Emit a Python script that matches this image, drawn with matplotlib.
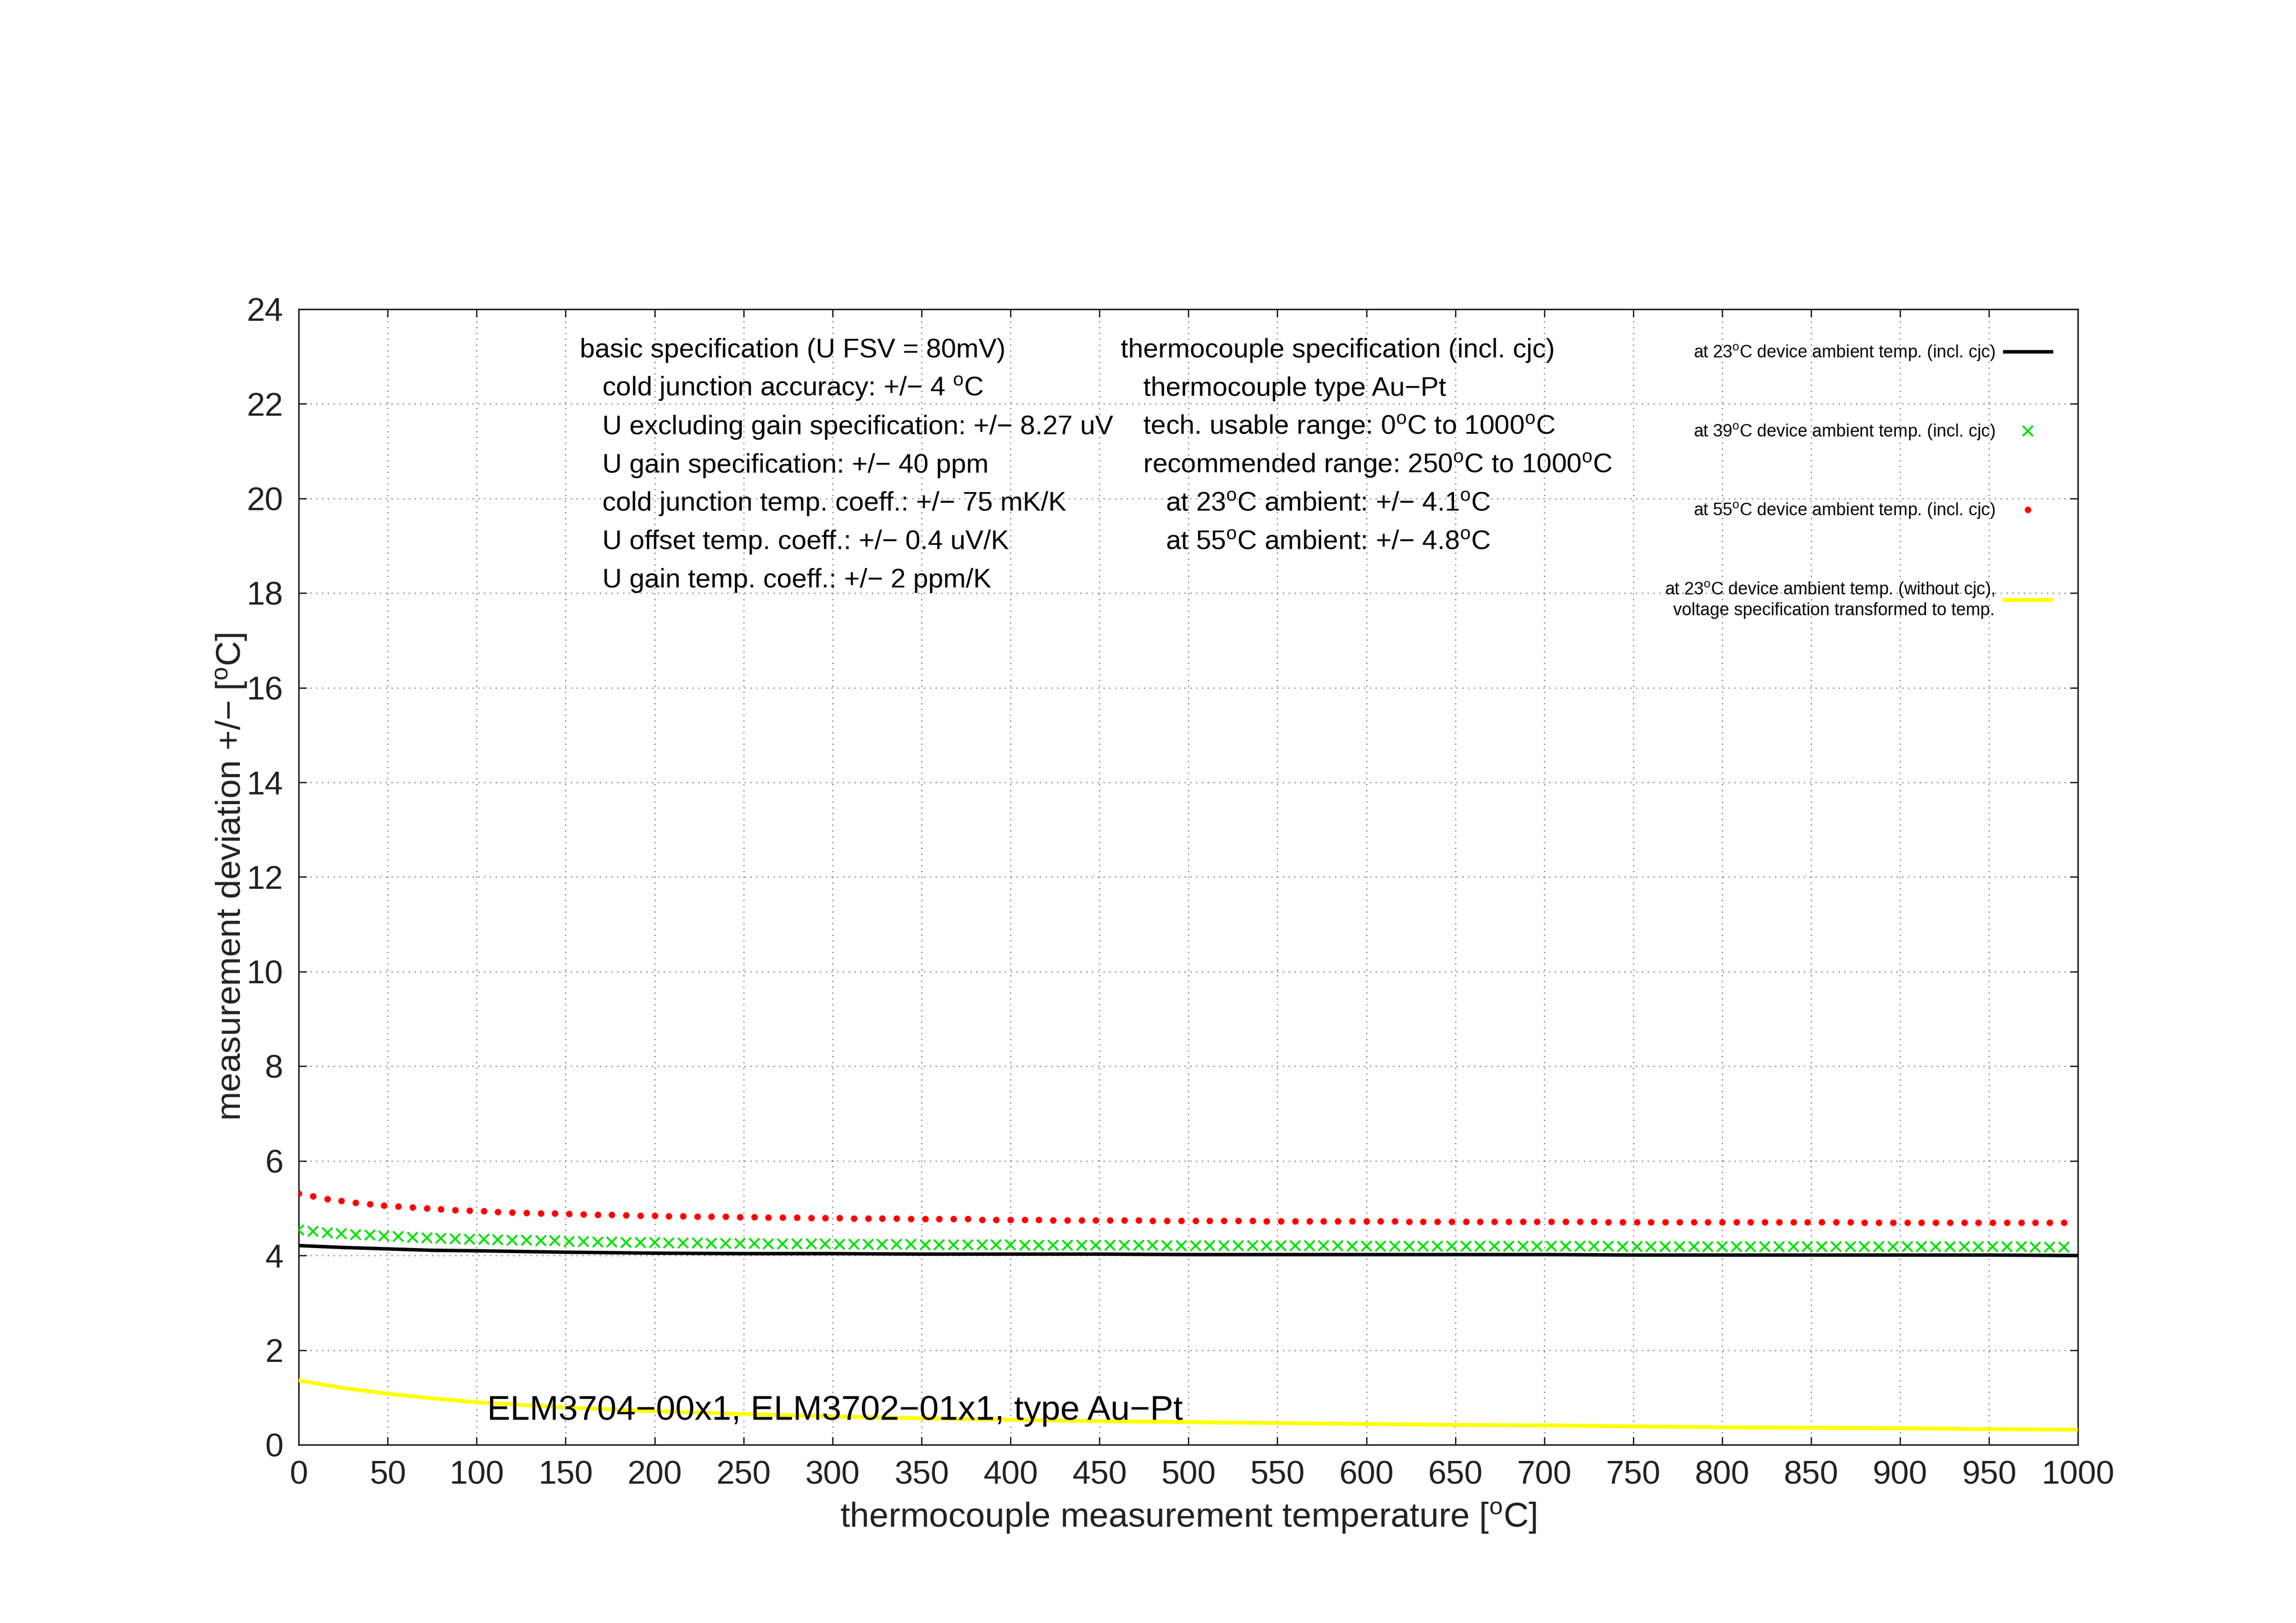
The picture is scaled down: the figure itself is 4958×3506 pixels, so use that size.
import numpy as np
import matplotlib
matplotlib.use("Agg")
from matplotlib import pyplot as plt

plt.rcParams['font.family'] = ['Liberation Sans', 'DejaVu Sans']
plt.rcParams['mathtext.fontset'] = 'custom'
plt.rcParams['mathtext.rm'] = 'Liberation Sans'
plt.rcParams['mathtext.it'] = 'Liberation Sans:italic'

# sample grid of the marker series (every 8 degC)
x_marks = np.arange(0, 1000, 8)

# at 55 degC ambient, red dots
dev_55 = [5.31, 5.25, 5.20, 5.16, 5.12, 5.09, 5.06, 5.04, 5.02, 5.00,
          4.98, 4.96, 4.95, 4.94, 4.92, 4.91, 4.90, 4.89, 4.89, 4.88,
          4.87, 4.86, 4.86, 4.85, 4.84, 4.84, 4.83, 4.83, 4.82, 4.82,
          4.82, 4.81, 4.81, 4.80, 4.80, 4.80, 4.79, 4.79, 4.79, 4.78,
          4.78, 4.78, 4.78, 4.77, 4.77, 4.77, 4.77, 4.77, 4.76, 4.76,
          4.76, 4.76, 4.76, 4.75, 4.75, 4.75, 4.75, 4.75, 4.75, 4.75,
          4.74, 4.74, 4.74, 4.74, 4.74, 4.74, 4.74, 4.74,
          4.73, 4.73, 4.73, 4.73, 4.73, 4.73, 4.73, 4.73, 4.73, 4.73,
          4.72, 4.72, 4.72, 4.72, 4.72, 4.72, 4.72, 4.72, 4.72, 4.72,
          4.72, 4.72, 4.72, 4.72,
          4.71, 4.71, 4.71, 4.71, 4.71, 4.71, 4.71, 4.71, 4.71, 4.71,
          4.71, 4.71, 4.71, 4.71, 4.71, 4.71, 4.71, 4.71,
          4.70, 4.70, 4.70, 4.70, 4.70, 4.70, 4.70, 4.70, 4.70, 4.70,
          4.70, 4.70, 4.70, 4.70, 4.70]

# at 39 degC ambient, green crosses
dev_39 = [4.54, 4.51, 4.48, 4.46, 4.44, 4.43, 4.41, 4.40, 4.38, 4.37,
          4.36, 4.35, 4.34, 4.34, 4.33, 4.32, 4.32, 4.31, 4.31, 4.30,
          4.30, 4.29, 4.29, 4.28, 4.28, 4.28, 4.27, 4.27, 4.27, 4.26,
          4.26, 4.26, 4.26, 4.25, 4.25, 4.25, 4.25, 4.25,
          4.24, 4.24, 4.24, 4.24, 4.24, 4.24,
          4.23, 4.23, 4.23, 4.23, 4.23, 4.23, 4.23,
          4.22, 4.22, 4.22, 4.22, 4.22, 4.22, 4.22, 4.22, 4.22, 4.22,
          4.21, 4.21, 4.21, 4.21, 4.21, 4.21, 4.21, 4.21, 4.21, 4.21,
          4.21, 4.21, 4.21,
          4.20, 4.20, 4.20, 4.20, 4.20, 4.20, 4.20, 4.20, 4.20, 4.20,
          4.20, 4.20, 4.20, 4.20, 4.20, 4.20, 4.20, 4.20, 4.20,
          4.19, 4.19, 4.19, 4.19, 4.19, 4.19, 4.19, 4.19, 4.19, 4.19,
          4.19, 4.19, 4.19, 4.19, 4.19, 4.19, 4.19, 4.19, 4.19, 4.19,
          4.19, 4.19, 4.19, 4.19, 4.19, 4.19, 4.19, 4.19, 4.19,
          4.18, 4.18, 4.18]

# line series
x_line = [0, 25, 50, 75, 100, 150, 200, 250, 300, 350, 400, 450, 500,
          550, 600, 650, 700, 750, 800, 850, 900, 950, 1000]
dev_23 = [4.21, 4.17, 4.14, 4.11, 4.10, 4.07, 4.05, 4.04, 4.04, 4.03, 4.03,
          4.03, 4.02, 4.02, 4.02, 4.02, 4.02, 4.01, 4.01, 4.01, 4.01, 4.01, 4.00]
dev_23_nocjc = [1.36, 1.20, 1.08, 0.98, 0.90, 0.79, 0.71, 0.65, 0.60, 0.56,
                0.53, 0.50, 0.48, 0.46, 0.44, 0.42, 0.41, 0.39, 0.37, 0.36,
                0.35, 0.33, 0.32]

deg = r'$^{\rm o}$'
labels = ['at 23' + deg + 'C device ambient temp. (incl. cjc)',
          'at 39' + deg + 'C device ambient temp. (incl. cjc)',
          'at 55' + deg + 'C device ambient temp. (incl. cjc)',
          'at 23' + deg + 'C device ambient temp. (without cjc),\n'
          'voltage specification transformed to temp.']

spec_left = ['basic specification (U FSV = 80mV)',
             '   cold junction accuracy: +/\u2212 4 ' + deg + 'C',
             '   U excluding gain specification: +/\u2212 8.27 uV',
             '   U gain specification: +/\u2212 40 ppm',
             '   cold junction temp. coeff.: +/\u2212 75 mK/K',
             '   U offset temp. coeff.: +/\u2212 0.4 uV/K',
             '   U gain temp. coeff.: +/\u2212 2 ppm/K']
spec_right = ['thermocouple specification (incl. cjc)',
              '   thermocouple type Au\u2212Pt',
              '   tech. usable range: 0' + deg + 'C to 1000' + deg + 'C',
              '   recommended range: 250' + deg + 'C to 1000' + deg + 'C',
              '      at 23' + deg + 'C ambient: +/\u2212 4.1' + deg + 'C',
              '      at 55' + deg + 'C ambient: +/\u2212 4.8' + deg + 'C']
spec_y = [22.98, 22.17, 21.36, 20.55, 19.74, 18.93, 18.12]

fig = plt.figure(figsize=(4958 / 300, 3506 / 300), dpi=300)
ax = fig.add_axes([0.1301, 0.1098, 0.775, 0.6997])

ax.plot(x_line, dev_23, '-', color='black', lw=1.8, label=labels[0], zorder=3)
ax.plot(x_marks, dev_39, 'x', color='#00e000', ms=5.3, mew=1.0, label=labels[1], zorder=3)
ax.plot(x_marks, dev_55, 'o', color='#ff0000', ms=3.4, mew=0, label=labels[2], zorder=3)
ax.plot(x_line, dev_23_nocjc, '-', color='#ffff00', lw=2.0, label=labels[3], zorder=3)

ax.set_xlim(0, 1000)
ax.set_ylim(0, 24)
ax.set_xticks(np.arange(0, 1001, 50))
ax.set_yticks(np.arange(0, 25, 2))
ax.tick_params(direction='in', length=4, width=0.6, top=True, right=True,
               labelsize=17, labelcolor='#222222', pad=8)
ax.grid(True, color='#777777', lw=0.6, linestyle=(0, (1, 4)), zorder=0)
for s in ax.spines.values():
    s.set_linewidth(0.8)
    s.set_color('#222222')

ax.set_xlabel('thermocouple measurement temperature [' + deg + 'C]',
              fontsize=18, color='#222222', labelpad=5)
ax.set_ylabel('measurement deviation +/\u2212 [' + deg + 'C]',
              fontsize=18, color='#222222')
ax.yaxis.set_label_coords(-0.028, 0.5)

for txt, yy in zip(spec_left, spec_y):
    ax.text(158, yy, txt, fontsize=14, va='baseline', ha='left')
for txt, yy in zip(spec_right, spec_y):
    ax.text(462, yy, txt, fontsize=14, va='baseline', ha='left')

ax.text(106, 0.53, 'ELM3704\u221200x1, ELM3702\u221201x1, type Au\u2212Pt',
        fontsize=18, va='baseline', ha='left', zorder=4)

leg = ax.legend(loc='upper right', bbox_to_anchor=(0.985, 0.970), borderpad=0,
                borderaxespad=0, frameon=False, markerfirst=False, numpoints=1,
                fontsize=9, labelspacing=3.45, handlelength=2.7, handletextpad=0.55)
for t in leg.get_texts():
    t.set_multialignment('right')

fig.savefig('out.png', dpi=300)
